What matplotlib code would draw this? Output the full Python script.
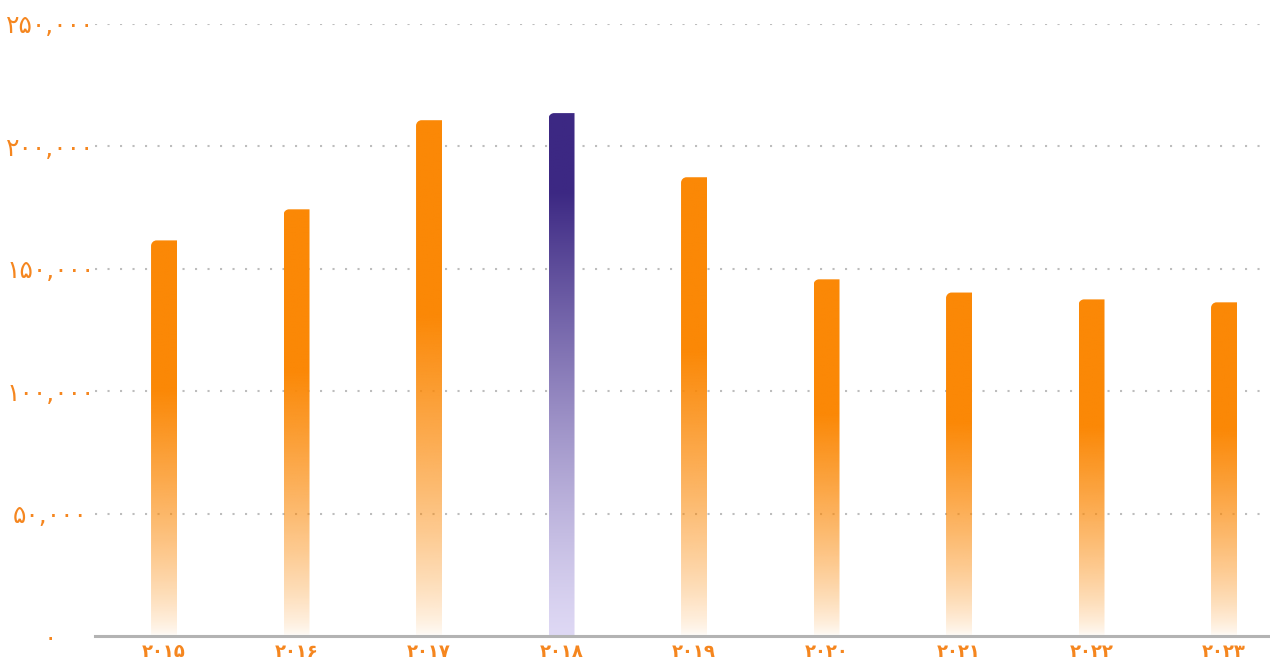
import numpy as np
import matplotlib.pyplot as plt
from matplotlib.path import Path
from matplotlib.patches import PathPatch
from matplotlib.colors import to_rgb

# --- data ---
years = ["۲۰۱۵", "۲۰۱۶", "۲۰۱۷", "۲۰۱۸", "۲۰۱۹", "۲۰۲۰", "۲۰۲۱", "۲۰۲۲", "۲۰۲۳"]
values = [161600, 174300, 210700, 213600, 187400, 145700, 140300, 137500, 136300]
highlight = 3  # 2018 drawn in purple

y_ticks = [0, 50000, 100000, 150000, 200000, 250000]
y_tick_labels = ["۰", "۵۰,۰۰۰", "۱۰۰,۰۰۰", "۱۵۰,۰۰۰", "۲۰۰,۰۰۰", "۲۵۰,۰۰۰"]

# --- style ---
ORANGE = "#FB8806"
PURPLE_TOP = "#3C2883"
PURPLE_BOT = "#DED8F4"
LABEL_COL = "#F5861F"
GRID_COL = "#BDBDBD"
AXIS_COL = "#B3B3B3"

plt.rcParams['font.family'] = ['DejaVu Sans']

fig = plt.figure(figsize=(12.7, 6.6), dpi=100)
ax = fig.add_axes([95 / 1270, 24 / 660, 1 - 95 / 1270, (636 - 24) / 660])

x = np.arange(len(years))
bar_w = 0.196
bars = ax.bar(x, values, width=bar_w, color="none", edgecolor="none", zorder=3)

xmin, xmax = -0.521, 8.347
ymin, ymax = 0, 250000
px_x = 1175 / (xmax - xmin)
px_y = 612 / (ymax - ymin)
radius = 5.5  # pixels, top-left corner only
rx = radius / px_x
ry = radius / px_y
k = 0.5523

def gradient_image(top_rgb, bot_rgb, kind, n=256):
    t = np.linspace(0, 1, n)[:, None]  # 0 bottom, 1 top
    img = np.zeros((n, 1, 4))
    if kind == "orange":
        a = np.clip(t / 0.62, 0, 1) ** 0.75
        a = 0.03 + 0.97 * a
        img[..., 0] = top_rgb[0]
        img[..., 1] = top_rgb[1]
        img[..., 2] = top_rgb[2]
        img[..., 3] = a
    else:
        s = np.clip(t / 0.85, 0, 1) ** 1.25
        for c in range(3):
            img[..., c] = bot_rgb[c] + (top_rgb[c] - bot_rgb[c]) * s
        img[..., 3] = 1.0
    return img

orange_img = gradient_image(to_rgb(ORANGE), (1, 1, 1), "orange")
purple_img = gradient_image(to_rgb(PURPLE_TOP), to_rgb(PURPLE_BOT), "purple")

for i, rect in enumerate(bars):
    x0 = rect.get_x()
    x1 = x0 + rect.get_width()
    h = rect.get_height()
    verts = [
        (x0, 0), (x1, 0), (x1, h), (x0 + rx, h),
        (x0 + rx * (1 - k), h), (x0, h - ry * (1 - k)), (x0, h - ry),
        (x0, 0),
    ]
    codes = [Path.MOVETO, Path.LINETO, Path.LINETO, Path.LINETO,
             Path.CURVE4, Path.CURVE4, Path.CURVE4, Path.CLOSEPOLY]
    patch = PathPatch(Path(verts, codes), facecolor="none", edgecolor="none")
    ax.add_patch(patch)
    img = purple_img if i == highlight else orange_img
    im = ax.imshow(img, extent=[x0, x1, 0, h], origin="lower",
                   aspect="auto", interpolation="bilinear", zorder=3)
    im.set_clip_path(patch)

ax.set_xlim(xmin, xmax)
ax.set_ylim(ymin, ymax)

# grid
for yv in y_ticks[1:]:
    ax.axhline(yv, color=GRID_COL, lw=1.5, linestyle=(0, (1, 5)), zorder=1)

for s in ["top", "right", "left"]:
    ax.spines[s].set_visible(False)
ax.spines["bottom"].set_color(AXIS_COL)
ax.spines["bottom"].set_linewidth(2.2)
ax.spines["bottom"].set_zorder(4)

ax.set_yticks(y_ticks)
ax.set_yticklabels(y_tick_labels, ha="center", color=LABEL_COL, fontsize=18)
ax.tick_params(axis="y", length=0, pad=32)

ax.set_xticks(x)
ax.set_xticklabels(years, color=LABEL_COL, fontsize=13, fontweight="bold")
ax.tick_params(axis="x", length=0, pad=5)

fig.savefig("out.png", dpi=100, facecolor="white")
